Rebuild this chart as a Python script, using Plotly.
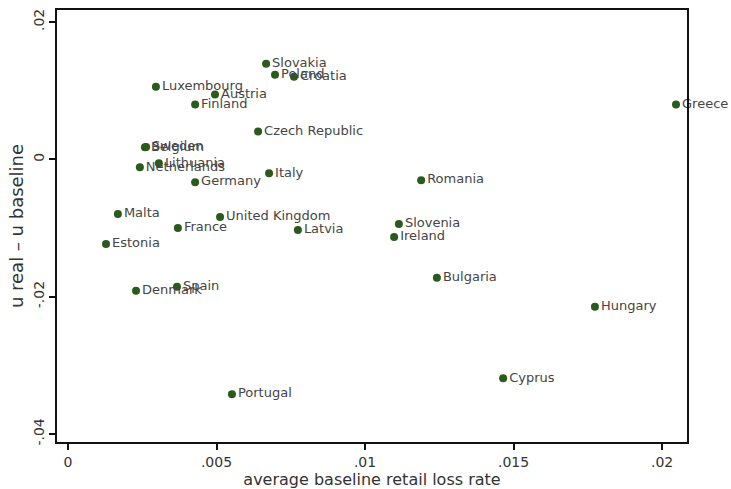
import plotly.graph_objects as go

# Countries and their values
countries = [
    "Slovakia", "Poland", "Croatia", "Luxembourg", "Austria", "Finland",
    "Czech Republic", "Greece", "Belgium", "Sweden", "Lithuania", "Netherlands",
    "Germany", "Italy", "Romania", "Slovenia", "Ireland", "Bulgaria", "Hungary",
    "Cyprus", "Malta", "United Kingdom", "France", "Latvia", "Estonia",
    "Denmark", "Spain", "Portugal",
]
loss_rate = [
    0.00667, 0.00697, 0.00761, 0.00296, 0.00495, 0.00428,
    0.00640, 0.02047, 0.00259, 0.00263, 0.00306, 0.00242,
    0.00428, 0.00677, 0.01189, 0.01114, 0.01098, 0.01242, 0.01774,
    0.01465, 0.00168, 0.00512, 0.00370, 0.00774, 0.00128,
    0.00229, 0.00367, 0.00552,
]
u_diff = [
    0.01391, 0.01232, 0.01203, 0.01058, 0.00942, 0.00797,
    0.00406, 0.00797, 0.00174, 0.00180, -0.00058, -0.00116,
    -0.00333, -0.00203, -0.00304, -0.00942, -0.01130, -0.01725, -0.02145,
    -0.03188, -0.00797, -0.00840, -0.01000, -0.01029, -0.01232,
    -0.01913, -0.01855, -0.03420,
]

x_tickvals = [0, 0.005, 0.01, 0.015, 0.02]
x_ticktext = ["0", ".005", ".01", ".015", ".02"]
y_tickvals = [-0.04, -0.02, 0, 0.02]
y_ticktext = ["-.04", "-.02", "0", ".02"]

FONT = "DejaVu Sans, Liberation Sans, sans-serif"

fig = go.Figure(
    go.Scatter(
        x=loss_rate,
        y=u_diff,
        mode="markers+text",
        text=countries,
        textposition="middle right",
        textfont=dict(family=FONT, size=13, color="#454545"),
        marker=dict(size=8, color="#2a5a1c"),
        cliponaxis=False,
        hoverinfo="skip",
    )
)

axis_common = dict(
    showgrid=False,
    zeroline=False,
    showline=True,
    linecolor="#111111",
    linewidth=1.5,
    mirror=True,
    ticks="outside",
    ticklen=6,
    tickwidth=1.5,
    tickcolor="#111111",
    tickfont=dict(family=FONT, size=14, color="#333333"),
)

fig.update_layout(
    width=731,
    height=489,
    margin=dict(l=57, r=44, t=8, b=47),
    paper_bgcolor="white",
    plot_bgcolor="white",
    showlegend=False,
    xaxis=dict(
        range=[-0.00037, 0.02084],
        tickvals=x_tickvals,
        ticktext=x_ticktext,
        title=dict(
            text="average baseline retail loss rate",
            standoff=0,
            font=dict(family=FONT, size=16, color="#333333"),
        ),
        **axis_common,
    ),
    yaxis=dict(
        range=[-0.04116, 0.02174],
        tickvals=y_tickvals,
        ticktext=y_ticktext,
        tickangle=-90,
        title=dict(
            text="u real \u2013 u baseline",
            standoff=2,
            font=dict(family=FONT, size=18, color="#333333"),
        ),
        **axis_common,
    ),
)

fig.write_html("out.html")
